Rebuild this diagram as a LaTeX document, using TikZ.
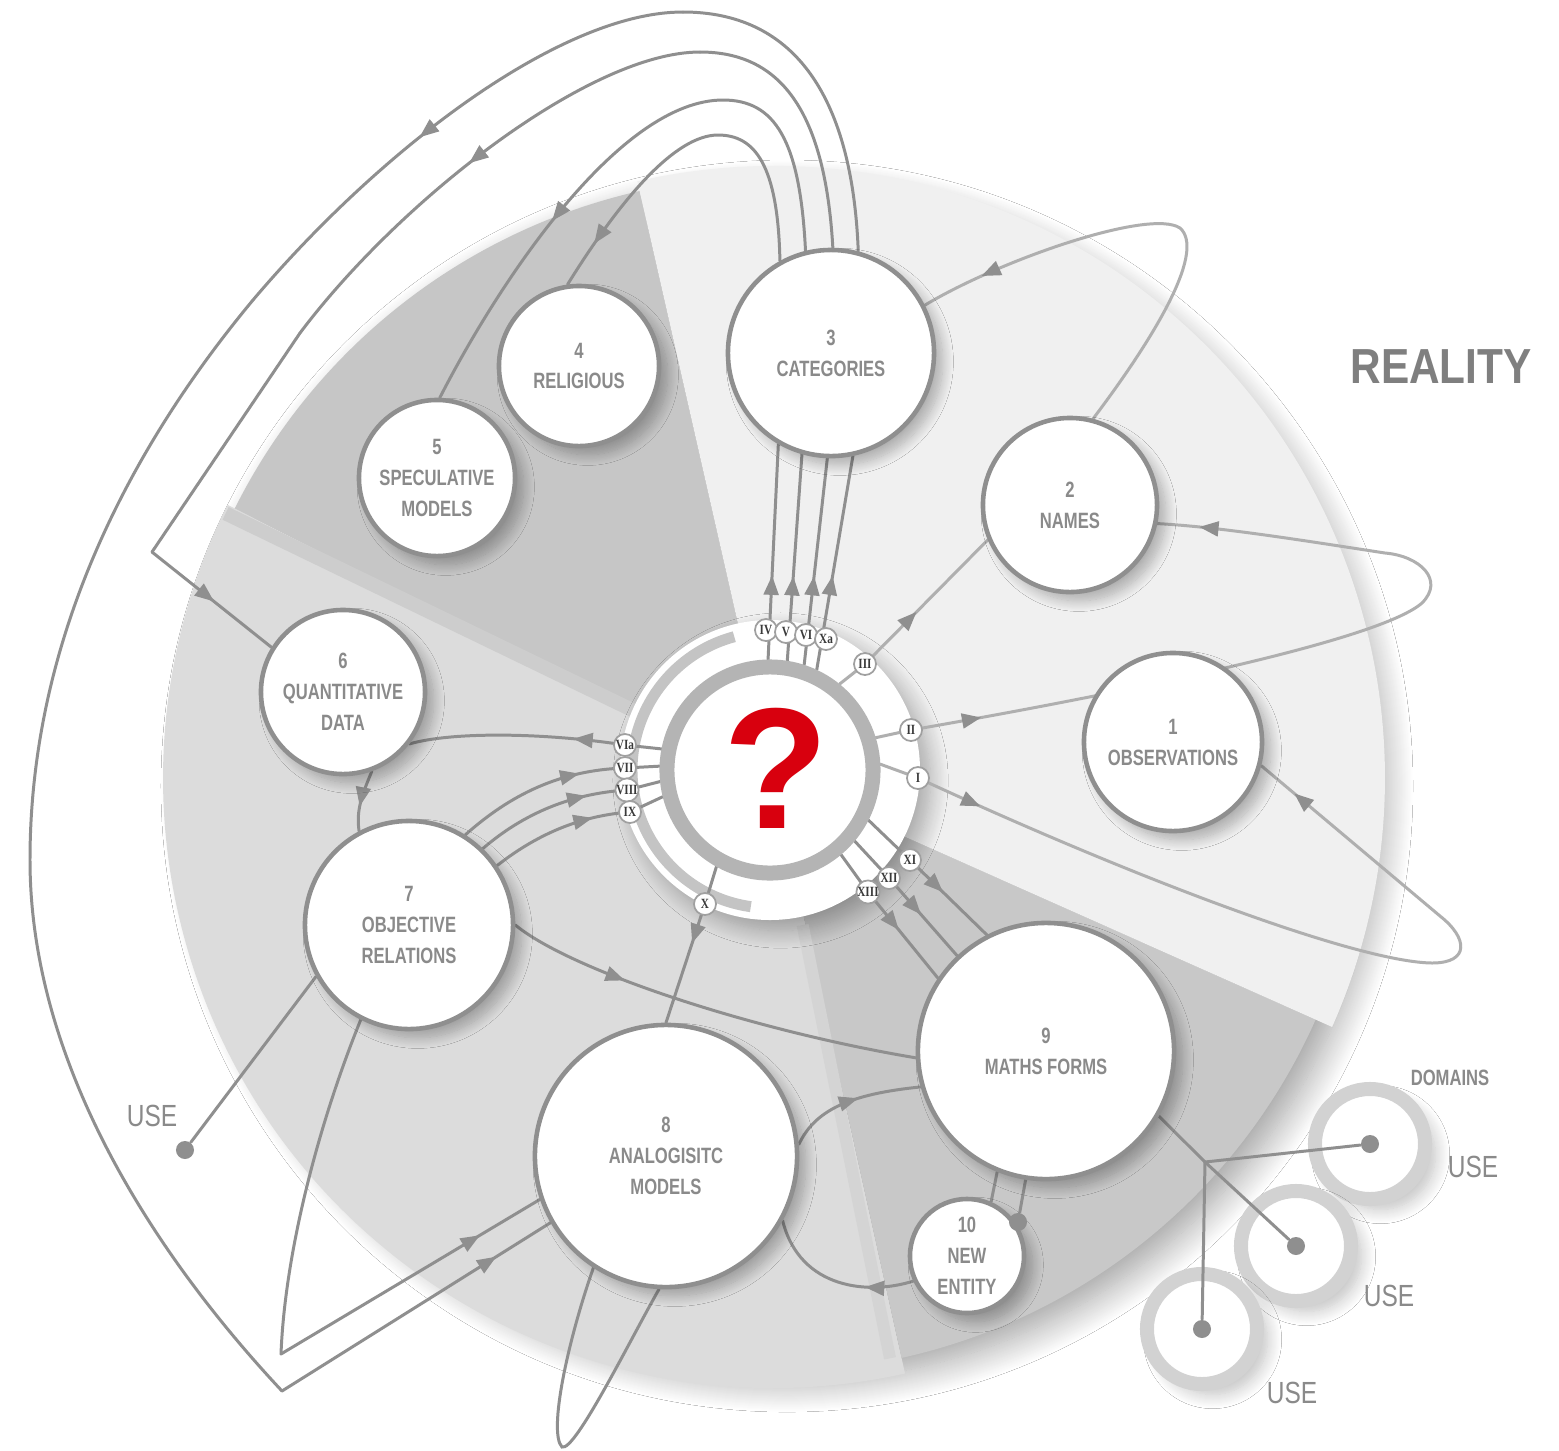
\documentclass[tikz,border=0pt]{standalone}
\usepackage{fontspec}
\setmainfont{Liberation Sans}
\newfontfamily\labfont{Liberation Sans}[FakeStretch=0.75]
\newfontfamily\ufont{Liberation Sans}[FakeStretch=0.8]
\newfontfamily\romfont{Liberation Serif}[FakeStretch=0.8]
\newfontfamily\realfont{Liberation Sans}[FakeStretch=0.86]
\usetikzlibrary{arrows.meta,decorations.markings,shadows.blur,calc}
\pgfdeclarelayer{bg}
\pgfdeclarelayer{conn}
\pgfsetlayers{bg,conn,main}
\definecolor{lnc}{HTML}{8F8F8F}
\definecolor{lnl}{HTML}{AFAFAF}
\definecolor{txc}{HTML}{8A8A8A}
\definecolor{realc}{HTML}{7F7F7F}
\definecolor{secA}{HTML}{F0F0F0}
\definecolor{secB}{HTML}{C6C6C6}
\definecolor{secC}{HTML}{DCDCDC}
\definecolor{secD}{HTML}{C8C8C8}
\definecolor{bandB}{HTML}{CDCDCD}
\definecolor{bandD}{HTML}{D4D4D4}
\definecolor{ringc}{HTML}{B4B4B4}
\definecolor{ringb}{HTML}{C4C4C4}
\definecolor{bdc}{HTML}{A0A0A0}
\definecolor{romc}{HTML}{3A3A3A}
\definecolor{domc}{HTML}{D2D2D2}
\definecolor{qred}{HTML}{D8000E}
\tikzset{
 bignode/.style={circle, draw=lnc, line width=1.3pt, fill=white, inner sep=0pt, align=center, text=txc,
   font={\labfont\bfseries\fontsize{6.3}{8.8}\selectfont},
   blur shadow={shadow xshift=2.5pt, shadow yshift=-2.5pt, shadow blur radius=3pt, shadow blur steps=14, shadow opacity=28}},
 badge/.style={circle, draw=bdc, line width=0.5pt, fill=white, inner sep=0pt, minimum size=0.22cm,
   text=romc, font={\romfont\bfseries\fontsize{4}{4}\selectfont}},
 con/.style={draw=lnc, line width=0.85pt, line cap=round},
 conl/.style={draw=lnl, line width=0.85pt, line cap=round},
 arr/.style={postaction={decorate}, decoration={markings, mark=at position #1 with {\arrow{Triangle[length=5.5pt,width=4.2pt,color=lnc]}}}},
 arrtwo/.style 2 args={postaction={decorate}, decoration={markings,
   mark=at position #1 with {\arrow{Triangle[length=5.5pt,width=4.2pt,color=lnc]}},
   mark=at position #2 with {\arrow{Triangle[length=5.5pt,width=4.2pt,color=lnc]}}}},
 dotn/.style={circle, fill=lnc, inner sep=0pt, minimum size=0.18cm},
 domring/.style={circle, draw=domc, line width=0.14cm, fill=white, inner sep=0pt, minimum size=1.1cm,
   blur shadow={shadow xshift=3pt, shadow yshift=-3pt, shadow blur radius=4pt, shadow blur steps=14, shadow opacity=25}},
 uselab/.style={text=txc, inner sep=0pt, font={\ufont\fontsize{8.7}{9}\selectfont}},
}
\begin{document}
\begin{tikzpicture}[x=0.01cm,y=-0.01cm]
\useasboundingbox (0,0) rectangle (1559,1450);
\coordinate (O) at (773,778);
\coordinate (C) at (770,770);
% ---------- main nodes ----------
\node[bignode, minimum size=1.78cm] (n1) at (1173,742) {1\\OBSERVATIONS};
\node[bignode, minimum size=1.74cm] (n2) at (1070,505) {2\\NAMES};
\node[bignode, minimum size=2.06cm] (n3) at (831,353) {3\\CATEGORIES};
\node[bignode, minimum size=1.60cm] (n4) at (579,366) {4\\RELIGIOUS};
\node[bignode, minimum size=1.56cm] (n5) at (437,478) {5\\SPECULATIVE\\MODELS};
\node[bignode, minimum size=1.64cm] (n6) at (343,692) {6\\QUANTITATIVE\\DATA};
\node[bignode, minimum size=2.08cm] (n7) at (409,925) {7\\OBJECTIVE\\RELATIONS};
\node[bignode, minimum size=2.62cm] (n8) at (666,1156) {8\\ANALOGISITC\\MODELS};
\node[bignode, minimum size=2.56cm] (n9) at (1046,1051) {9\\MATHS FORMS};
\node[bignode, minimum size=1.14cm] (n10) at (967,1256) {10\\NEW\\ENTITY};
% centre
\node[circle, fill=white, draw=ringc, line width=0.15cm, minimum size=2.06cm, inner sep=0pt] (nq) at (C) {};
\node[text=qred, inner sep=0pt, font={\bfseries\fontsize{49}{49}\selectfont}] (qm) at (776,768) {?};
% badges
\node[badge] (rIV) at (766,630) {IV};
\node[badge] (rV) at (786,632) {V};
\node[badge] (rVI) at (806,635) {VI};
\node[badge] (rXa) at (826,639) {Xa};
\node[badge] (rIII) at (865,664) {III};
\node[badge] (rII) at (911,730) {II};
\node[badge] (rI) at (918,778) {I};
\node[badge] (rVIa) at (625,745) {VIa};
\node[badge] (rVII) at (625,768) {VII};
\node[badge] (rVIII) at (627,790) {VIII};
\node[badge] (rIX) at (630,812) {IX};
\node[badge] (rX) at (705,904) {X};
\node[badge] (rXI) at (910,860) {XI};
\node[badge] (rXII) at (889,878) {XII};
\node[badge] (rXIII) at (868,892) {XIII};
% dots
\node[dotn] (du) at (185,1150) {};
\node[dotn] (dt1) at (1370,1144) {};
\node[dotn] (dt2) at (1296,1246) {};
\node[dotn] (dt3) at (1202,1329) {};
\node[dotn] (dt10) at (1018,1222) {};
\coordinate (jn) at (1205,1162);
% labels
\node[uselab] (uL) at (152,1116) {USE};
\node[uselab] (u1) at (1473,1167) {USE};
\node[uselab] (u2) at (1389,1296) {USE};
\node[uselab] (u3) at (1292,1393) {USE};
\node[text=txc, inner sep=0pt, font={\labfont\bfseries\fontsize{6.3}{7}\selectfont}] (dom) at (1450,1078) {DOMAINS};
\node[text=realc, inner sep=0pt, font={\realfont\bfseries\fontsize{14}{14}\selectfont}] (real) at (1441,367) {REALITY};
% ---------- background ----------
\begin{pgfonlayer}{bg}
 \fill[white] (0,0) rectangle (1559,1450);
 \path[blur shadow={shadow xshift=0.14cm, shadow yshift=-0.08cm, shadow blur radius=0.3cm, shadow blur steps=30, shadow opacity=38}] (O) circle[radius=596];
 \fill[secC] (O) -- ++(77.5:610) arc[start angle=77.5, end angle=206.6, radius=610] -- cycle;
 \fill[secD] (O) -- ++(24:594) arc[start angle=24, end angle=77.5, radius=594] -- cycle;
 \fill[secB] (O) -- ++(206.6:602) arc[start angle=206.6, end angle=257.2, radius=602] -- cycle;
 \fill[secA] (O) -- ++(-102.8:612) arc[start angle=-102.8, end angle=24, radius=612] -- cycle;
 \draw[bandB, line width=0.14cm] ($(O)+(205.8:150)$) -- ($(O)+(205.8:608)$);
 \draw[bandD, line width=0.12cm] ($(O)+(78.6:150)$) -- ($(O)+(78.6:592)$);
 % ring round the centre
 \fill[white, blur shadow={shadow xshift=3pt, shadow yshift=-3pt, shadow blur radius=5pt, shadow blur steps=16, shadow opacity=30}] (C) circle[radius=150];
 \draw[ringb, line width=0.11cm] (C) ++(98:138) arc[start angle=98, end angle=255, radius=138];
 % domain rings
 \node[domring] (d1) at (1370,1144) {};
 \node[domring] (d2) at (1296,1246) {};
 \node[domring] (d3) at (1202,1329) {};
\end{pgfonlayer}
% ---------- connectors ----------
\begin{pgfonlayer}{conn}
 % I
 \draw[conl] (nq.3.5) -- (rI.center);
 \draw[conl, arrtwo={0.08}{0.95}] (rI.center) .. controls (1150,885) and (1360,962) .. (1432,963)
   .. controls (1470,963) and (1468,938) .. (1440,916) -- (n1.-15);
 % II
 \draw[conl] (nq.17.6) -- (rII.center);
 \draw[conl, arrtwo={0.085}{0.95}] (rII.center) .. controls (1130,692) and (1380,640) .. (1422,603)
   .. controls (1445,580) and (1420,556) .. (1385,553) .. controls (1300,540) and (1220,527) .. (n2.-12);
 % III
 \draw[conl] (nq.51) -- (rIII.center);
 \draw[conl, arr={0.42}] (rIII.center) -- (n2.203);
 \draw[conl, arr={0.87}] (n2.75) .. controls (1160,330) and (1205,250) .. (1180,228)
   .. controls (1150,208) and (1000,260) .. (n3.27);
 % IV V VI Xa up to 3
 \draw[con, arr={0.39}] (nq.91.5) -- (n3.-120);
 \draw[con, arr={0.41}] (nq.81.4) -- (n3.-106);
 \draw[con, arr={0.43}] (nq.72.8) -- (n3.-92);
 \draw[con, arr={0.44}] (nq.65.7) -- (n3.-78);
 % over the top: IV -> 4
 \draw[con, arr={0.87}] (n3.119) .. controls (778,165) and (755,135) .. (718,135)
   .. controls (675,135) and (620,200) .. (n4.98);
 % V -> 5
 \draw[con, arr={0.66}] (n3.104.6) .. controls (800,140) and (775,100) .. (723,100)
   .. controls (620,100) and (500,280) .. (n5.88);
 % VI -> 6
 \coordinate (kB) at (152,552);
 \draw[con] (n3.89.4) .. controls (825,110) and (780,52) .. (700,52);
 \draw[con, arr={0.52}] (700,52) .. controls (590,52) and (400,200) .. (300,333);
 \draw[con] (300,333) -- (kB);
 \draw[con, arr={0.52}] (kB) -- (n6.148);
 % Xa -> big arc -> 8
 \coordinate (kA) at (282,1391);
 \draw[con] (n3.75.4) .. controls (852,90) and (790,12) .. (683,12);
 \draw[con, arr={0.56}] (683,12) .. controls (560,12) and (380,150) .. (253,300);
 \draw[con] (253,300) .. controls (120,460) and (30,650) .. (30,860)
   .. controls (30,1060) and (150,1250) .. (kA);
 \draw[con, arr={0.8}] (kA) -- (n8.210.5);
 % 7 -> 8 via lower corner
 \coordinate (kC) at (281,1354);
 \draw[con] (n7.243) .. controls (320,1120) and (285,1250) .. (kC);
 \draw[con, arr={0.77}] (kC) -- (n8.199);
 % 7 -> USE
 \draw[con] (n7.209) -- (du);
 % VIa -> 6, 6 -> 7
 \draw[con] (nq.169.7) -- (rVIa.center);
 \draw[con, arr={0.24}] (rVIa.center) .. controls (540,732) and (450,732) .. (n6.-38);
 \draw[con, arr={0.6}] (n6.-70) .. controls (362,795) and (356,810) .. (n7.118);
 % 7 -> VII VIII IX
 \draw[con, arr={0.74}] (n7.58.7) .. controls (510,795) and (560,770) .. (rVII.center);
 \draw[con] (rVII.center) -- (nq.178.4);
 \draw[con, arr={0.74}] (n7.46.5) .. controls (530,808) and (580,793) .. (rVIII.center);
 \draw[con] (rVIII.center) -- (nq.186.2);
 \draw[con, arr={0.74}] (n7.34.3) .. controls (545,828) and (590,815) .. (rIX.center);
 \draw[con] (rIX.center) -- (nq.194.4);
 % X -> 8
 \draw[con] (nq.241.6) -- (rX.center);
 \draw[con, arr={0.33}] (rX.center) -- (n8.north);
 % XI XII XIII -> 9
 \draw[con] (nq.-27.9) -- (rXI.center);
 \draw[con, arr={0.43}] (rXI.center) -- (n9.117.7);
 \draw[con] (nq.-40) -- (rXII.center);
 \draw[con, arr={0.47}] (rXII.center) -- (n9.133.2);
 \draw[con] (nq.-50.4) -- (rXIII.center);
 \draw[con, arr={0.44}] (rXIII.center) -- (n9.146.4);
 % 7 -> 9
 \draw[con, arr={0.29}] (n7.east) .. controls (570,970) and (750,1030) .. (n9.183);
 % 8 -> 9
 \draw[con, arr={0.55}] (n8.5) .. controls (815,1110) and (850,1094) .. (n9.196);
 % 10 -> 8
 \draw[con, arr={0.3}] (n10.205) .. controls (870,1295) and (800,1290) .. (n8.-29);
 % 9 -- 10
 \draw[con] (n9.248.4) -- (n10.66);
 \draw[con] (n9.261.5) -- (dt10);
 % loop below 8
 \draw[con] (n8.237.2) .. controls (568,1340) and (548,1432) .. (562,1447)
   .. controls (575,1452) and (630,1340) .. (n8.267);
 % 9 -> domains
 \draw[con] (n9.-30.6) -- (jn) -- (dt2);
 \draw[con] (jn) -- (dt1);
 \draw[con] (jn) -- (dt3);
\end{pgfonlayer}
\end{tikzpicture}
\end{document}
